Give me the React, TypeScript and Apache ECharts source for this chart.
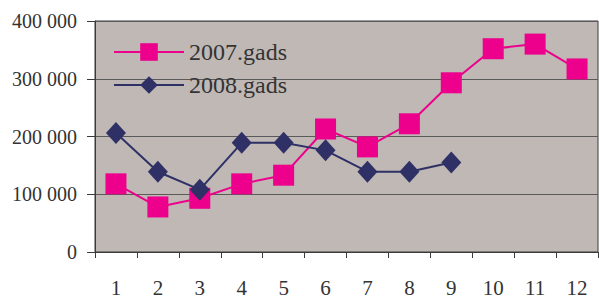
import React, { useEffect, useRef } from "react";
import * as echarts from "echarts";

const months = ["1", "2", "3", "4", "5", "6", "7", "8", "9", "10", "11", "12"];
const series2007 = [118000, 78000, 93000, 118000, 133000, 213000, 182000, 222000, 293000, 352000, 360000, 317000];
const series2008 = [206000, 139000, 108000, 189000, 189000, 176000, 139000, 139000, 155000];
const seriesNames = ["2007.gads", "2008.gads"];

export default function App() {
  const ref = useRef<HTMLDivElement>(null);
  useEffect(() => {
    if (!ref.current) return;
    const chart = echarts.init(ref.current, null, { renderer: "svg" });
    const serif = "Liberation Serif, DejaVu Serif, serif";
    chart.setOption({
      animation: false,
      textStyle: { fontFamily: serif },
      grid: {
        left: 95,
        right: 1,
        top: 21,
        bottom: 46,
        outerBoundsMode: "none",
        containLabel: false,
        show: true,
        backgroundColor: "#bfb8b5",
        borderColor: "#3a3a3a",
        borderWidth: 1,
      },
      legend: {
        show: true,
        left: 108,
        top: 35,
        orient: "vertical",
        itemGap: 9,
        itemWidth: 70,
        itemHeight: 22,
        textStyle: { fontFamily: serif, fontSize: 24, color: "#333" },
        data: seriesNames,
      },
      xAxis: {
        type: "category",
        data: months,
        boundaryGap: true,
        axisLine: { lineStyle: { color: "#3a3a3a", width: 1 } },
        axisTick: { show: true, length: 6, lineStyle: { color: "#3a3a3a" } },
        axisLabel: { fontFamily: serif, fontSize: 21, lineHeight: 21, color: "#333", margin: 25 },
      },
      yAxis: {
        type: "value",
        min: 0,
        max: 400000,
        interval: 100000,
        axisLine: { show: true, lineStyle: { color: "#3a3a3a", width: 1 } },
        axisTick: { show: true, length: 8, lineStyle: { color: "#3a3a3a" } },
        splitLine: { show: true, lineStyle: { color: "#5a5a5a", width: 1 } },
        axisLabel: {
          fontFamily: serif,
          fontSize: 20,
          color: "#333",
          margin: 18,
          formatter: (v: number) => {
            if (v === 0) return "0";
            const s = String(v);
            return s.slice(0, s.length - 3) + " " + s.slice(-3);
          },
        },
      },
      series: [
        {
          name: seriesNames[0],
          type: "line",
          data: series2007,
          symbol: "rect",
          symbolSize: 21,
          lineStyle: { color: "#ec008c", width: 2 },
          itemStyle: { color: "#ec008c" },
        },
        {
          name: seriesNames[1],
          type: "line",
          data: series2008,
          symbol: "diamond",
          symbolSize: [20, 22],
          lineStyle: { color: "#2e3066", width: 2 },
          itemStyle: { color: "#2e3066" },
        },
      ],
    });
    return () => chart.dispose();
  }, []);
  return <div ref={ref} style={{ width: 599, height: 298, position: "absolute", left: 0, top: 0 }} />;
}
